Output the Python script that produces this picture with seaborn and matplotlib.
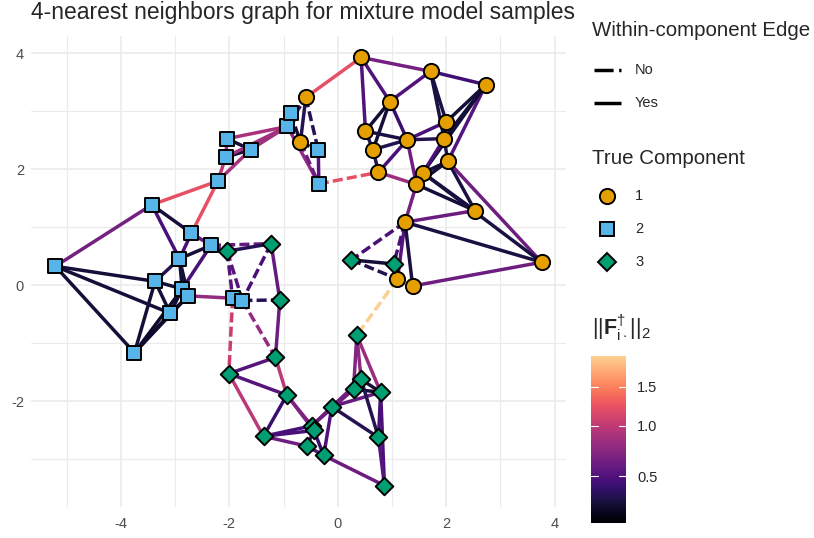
import numpy as np
import pandas as pd
import matplotlib
matplotlib.use("Agg")
import matplotlib.pyplot as plt
import seaborn as sns
from matplotlib.collections import LineCollection
from matplotlib.colors import FuncNorm, ListedColormap
from matplotlib.cm import ScalarMappable
from matplotlib.lines import Line2D

# node positions, one list pair per true component
comp1_x = [0.43, 1.71, 2.73, -0.59, 0.96, 2.00, 0.51, 1.28, 1.96, 0.65,
           -0.69, 2.03, 1.57, 0.75, 1.45, 2.53, 1.24, 3.76, 1.10, 1.38]
comp1_y = [3.93, 3.69, 3.46, 3.24, 3.17, 2.82, 2.66, 2.51, 2.53, 2.34,
           2.47, 2.14, 1.94, 1.95, 1.74, 1.29, 1.09, 0.40, 0.11, -0.01]
comp2_x = [-5.21, -3.43, -2.70, -2.34, -2.92, -3.37, -2.87, -2.76, -3.09, -1.94,
           -1.76, -2.21, -2.07, -2.04, -1.61, -0.93, -0.87, -0.36, -0.35, -3.75]
comp2_y = [0.33, 1.39, 0.90, 0.69, 0.46, 0.07, -0.06, -0.18, -0.48, -0.22,
           -0.26, 1.80, 2.21, 2.53, 2.34, 2.74, 2.97, 2.33, 1.75, -1.16]
comp3_x = [-2.04, -1.23, -1.07, 0.25, 1.03, 0.35, -1.15, -2.01, -0.94, 0.43,
           0.29, 0.79, -0.11, -1.37, -0.48, -0.44, -0.57, -0.26, 0.75, 0.86]
comp3_y = [0.59, 0.72, -0.25, 0.44, 0.37, -0.86, -1.24, -1.52, -1.89, -1.62,
           -1.79, -1.84, -2.09, -2.60, -2.42, -2.50, -2.77, -2.93, -2.62, -3.45]

# edges of the 4-NN graph (c = comp 1, s = comp 2, d = comp 3) and ||F_i.||_2
edge_from = ["s0", "s0", "s0", "s0", "s1", "s1", "s1", "s11", "s2", "s2",
             "s3", "s3", "s4", "s4", "s4", "s5", "s5", "s5", "s6", "s7",
             "s6", "s7", "s8", "s7", "s9", "s3", "s3", "d0", "d0", "d0",
             "d1", "s10", "d1", "s10", "s9", "d2",
             "s11", "s11", "s12", "s12", "s13", "s13", "s14", "s12", "s15", "s16",
             "s15", "s15", "s16", "c3", "c3", "c10", "s15", "c10", "s17", "s18", "c0",
             "c0", "c0", "c0", "c1", "c1", "c1", "c1", "c2", "c2", "c2",
             "c2", "c4", "c4", "c4", "c6", "c6", "c9", "c9", "c7", "c7",
             "c7", "c7", "c5", "c8", "c8", "c11", "c11", "c11", "c11", "c12",
             "c12", "c14", "c12", "c13", "c14", "c16", "c16", "c16", "c16", "c16",
             "c16", "c19", "d3", "d3", "d4", "c18",
             "d6", "d6", "d7", "d7", "d8", "d8", "d8", "d13", "d13", "d13",
             "d14", "d15", "d16", "d12", "d12", "d12", "d12", "d12", "d5", "d5",
             "d5", "d9", "d10", "d9", "d9", "d11", "d11", "d18", "d17", "d14", "d16"]
edge_to = ["s1", "s5", "s8", "s19", "s2", "s4", "s11", "s2", "s3", "s4",
           "s4", "s6", "s5", "s6", "s7", "s6", "s8", "s19", "s8", "s8",
           "s19", "s19", "s19", "s9", "s10", "d0", "d1", "d1", "s9", "s10",
           "s10", "d2", "d2", "d6", "d7", "d6",
           "s12", "s14", "s13", "s14", "s14", "s15", "s15", "s15", "s16", "c3",
           "c3", "c10", "c10", "c10", "s17", "s17", "s18", "s18", "s18", "c13", "c3",
           "c1", "c4", "c6", "c2", "c4", "c5", "c8", "c5", "c8", "c11",
           "c12", "c6", "c9", "c7", "c7", "c9", "c7", "c13", "c13", "c8",
           "c5", "c14", "c8", "c11", "c12", "c12", "c14", "c15", "c17", "c15",
           "c14", "c15", "c17", "c14", "c16", "c15", "c17", "c18", "c19", "d3",
           "d4", "c17", "d4", "c18", "c18", "d5",
           "d7", "d8", "d8", "d13", "d13", "d14", "d15", "d14", "d15", "d16",
           "d12", "d17", "d15", "d9", "d10", "d11", "d17", "d18", "d9", "d10",
           "d11", "d11", "d11", "d10", "d18", "d18", "d19", "d19", "d19", "d10", "d17"]
edge_value = [0.65, 0.30, 0.30, 0.30, 0.30, 0.48, 1.22, 1.22, 0.58, 0.48,
              0.30, 0.48, 0.35, 0.30, 0.30, 0.30, 0.30, 0.30, 0.30, 0.30,
              0.28, 0.28, 0.28, 0.78, 0.30, 0.58, 0.58, 0.35, 0.52, 0.52,
              0.48, 0.35, 0.58, 0.78, 1.05, 0.62,
              0.98, 0.88, 0.85, 0.30, 0.30, 0.88, 0.85, 0.85, 0.30, 0.35,
              0.42, 0.35, 0.30, 0.35, 0.35, 0.30, 0.78, 0.62, 0.52, 1.22, 1.22,
              0.65, 0.50, 0.50, 0.44, 0.50, 0.32, 0.32, 0.30, 0.30, 0.52,
              0.30, 0.30, 0.30, 0.42, 0.32, 0.35, 0.35, 0.35, 0.48, 0.35,
              0.48, 0.62, 0.30, 0.35, 0.48, 0.30, 0.30, 0.32, 0.62, 0.30,
              0.30, 0.30, 0.32, 0.82, 0.65, 0.60, 0.32, 0.52, 0.32, 0.48,
              0.48, 0.62, 0.30, 0.35, 0.42, 1.96,
              0.52, 0.98, 0.52, 0.98, 0.42, 0.72, 0.68, 0.48, 0.48, 0.62,
              0.68, 0.42, 0.48, 0.65, 0.62, 0.58, 0.50, 0.35, 0.75, 0.70,
              0.80, 0.30, 0.30, 0.35, 0.35, 0.48, 0.48, 0.52, 0.60, 0.62, 0.52]

comp_labels = ["1", "2", "3"]
comp_colors = ["#E69F00", "#56B4E9", "#009E73"]
comp_markers = ["o", "s", "D"]
comp_sizes = [120, 100, 80]

nodes = pd.concat([
    pd.DataFrame({"id": [f"{p}{i}" for i in range(len(xs))], "x": xs, "y": ys, "component": lab})
    for p, xs, ys, lab in [("c", comp1_x, comp1_y, "1"), ("s", comp2_x, comp2_y, "2"),
                           ("d", comp3_x, comp3_y, "3")]
], ignore_index=True)
pos = nodes.set_index("id")
edges = pd.DataFrame({"from": edge_from, "to": edge_to, "value": edge_value})
edges["within"] = [pos.loc[a, "component"] == pos.loc[b, "component"]
                   for a, b in zip(edges["from"], edges["to"])]

sns.set_style("white")
plt.rcParams['font.family'] = ['Liberation Sans', 'DejaVu Sans']
plt.rcParams['axes.unicode_minus'] = False
plt.rcParams['mathtext.fontset'] = 'custom'
plt.rcParams['mathtext.rm'] = 'Liberation Sans'
plt.rcParams['mathtext.bf'] = 'Liberation Sans:bold'
plt.rcParams['mathtext.it'] = 'Liberation Sans:italic'

# magma, stopping short of the pale end (like viridis option "magma", end = 0.9)
cmap = ListedColormap(plt.get_cmap("magma")(np.linspace(0, 0.9, 256)))
norm = FuncNorm((np.sqrt, np.square), vmin=0.19, vmax=1.97)

fig = plt.figure(figsize=(8.14, 5.38), dpi=100)
ax = fig.add_axes([31 / 814, 1 - 507 / 538, 535 / 814, 471 / 538])

dash = (0, (2.9, 1.2))
segs = [[(pos.loc[a, "x"], pos.loc[a, "y"]), (pos.loc[b, "x"], pos.loc[b, "y"])]
        for a, b in zip(edges["from"], edges["to"])]
lc = LineCollection(segs, colors=cmap(norm(edges["value"].values)), linewidths=2.5,
                    linestyles=["solid" if w else dash for w in edges["within"]],
                    capstyle="butt", zorder=2)
ax.add_collection(lc)

for lab, col, mk, sz in zip(comp_labels, comp_colors, comp_markers, comp_sizes):
    sns.scatterplot(data=nodes[nodes["component"] == lab], x="x", y="y", marker=mk,
                    color=col, s=sz, edgecolor="black", linewidth=1.4, ax=ax,
                    zorder=3, legend=False)

ax.set_xlabel("")
ax.set_ylabel("")
ax.set_xticks([-4, -2, 0, 2, 4])
ax.set_yticks([-2, 0, 2, 4])
ax.set_xticks([-5, -3, -1, 1, 3], minor=True)
ax.set_yticks([-3, -1, 1, 3], minor=True)
ax.grid(True, which="major", color="#ebebeb", linewidth=1.2)
ax.grid(True, which="minor", color="#ebebeb", linewidth=0.8)
ax.set_axisbelow(True)
for sp in ax.spines.values():
    sp.set_visible(False)
ax.tick_params(which="both", length=0, labelsize=10.5, labelcolor="#4d4d4d")
ax.tick_params(axis="x", pad=7)
ax.tick_params(axis="y", pad=5)

fig.text(31 / 814, 1 - 19 / 538, "4-nearest neighbors graph for mixture model samples",
         fontsize=16.5, va="baseline", ha="left")

# legend: within-component edge
fx = lambda px: px / 814
fy = lambda py: 1 - py / 538
fig.text(fx(592), fy(36), "Within-component Edge", fontsize=14.8, va="baseline")
fig.add_artist(Line2D([fx(594), fx(621)], [fy(70), fy(70)], color="black", lw=2.5,
                      linestyle=(0, (5.5, 1.6)), solid_capstyle="butt", dash_capstyle="butt"))
fig.add_artist(Line2D([fx(594), fx(621)], [fy(103), fy(103)], color="black", lw=2.5,
                      solid_capstyle="butt"))
fig.text(fx(635), fy(70), "No", fontsize=10.5, va="center")
fig.text(fx(635), fy(103), "Yes", fontsize=10.5, va="center")

# legend: true component
fig.text(fx(592), fy(164), "True Component", fontsize=14.8, va="baseline")
for i, (lab, col, mk, sz) in enumerate(zip(comp_labels, comp_colors, comp_markers, comp_sizes)):
    yy = fy(196 + 33 * i)
    fig.add_artist(Line2D([fx(607)], [yy], marker=mk, markersize=np.sqrt(sz),
                          markerfacecolor=col, markeredgecolor="black", markeredgewidth=1.4,
                          linestyle="none"))
    fig.text(fx(635), yy, lab, fontsize=10.5, va="center")

# colour bar
fig.text(fx(592), fy(335), r"$||\mathbf{F}^{\dagger}_{\mathrm{i}\cdot}||_{2}$",
         fontsize=15.5, va="baseline")
cax = fig.add_axes([fx(591), fy(523), 35 / 814, 167 / 538])
cb = fig.colorbar(ScalarMappable(norm=norm, cmap=cmap), cax=cax)
cb.outline.set_visible(False)
cb.set_ticks([0.5, 1.0, 1.5])
cb.set_ticklabels(["0.5", "1.0", "1.5"])
cax.tick_params(length=0, labelsize=10.5, pad=8)
for t in [0.5, 1.0, 1.5]:
    cax.axhline(t, xmin=0, xmax=0.2, color="white", lw=0.8)
    cax.axhline(t, xmin=0.8, xmax=1, color="white", lw=0.8)

fig.savefig("out.png", dpi=100)
